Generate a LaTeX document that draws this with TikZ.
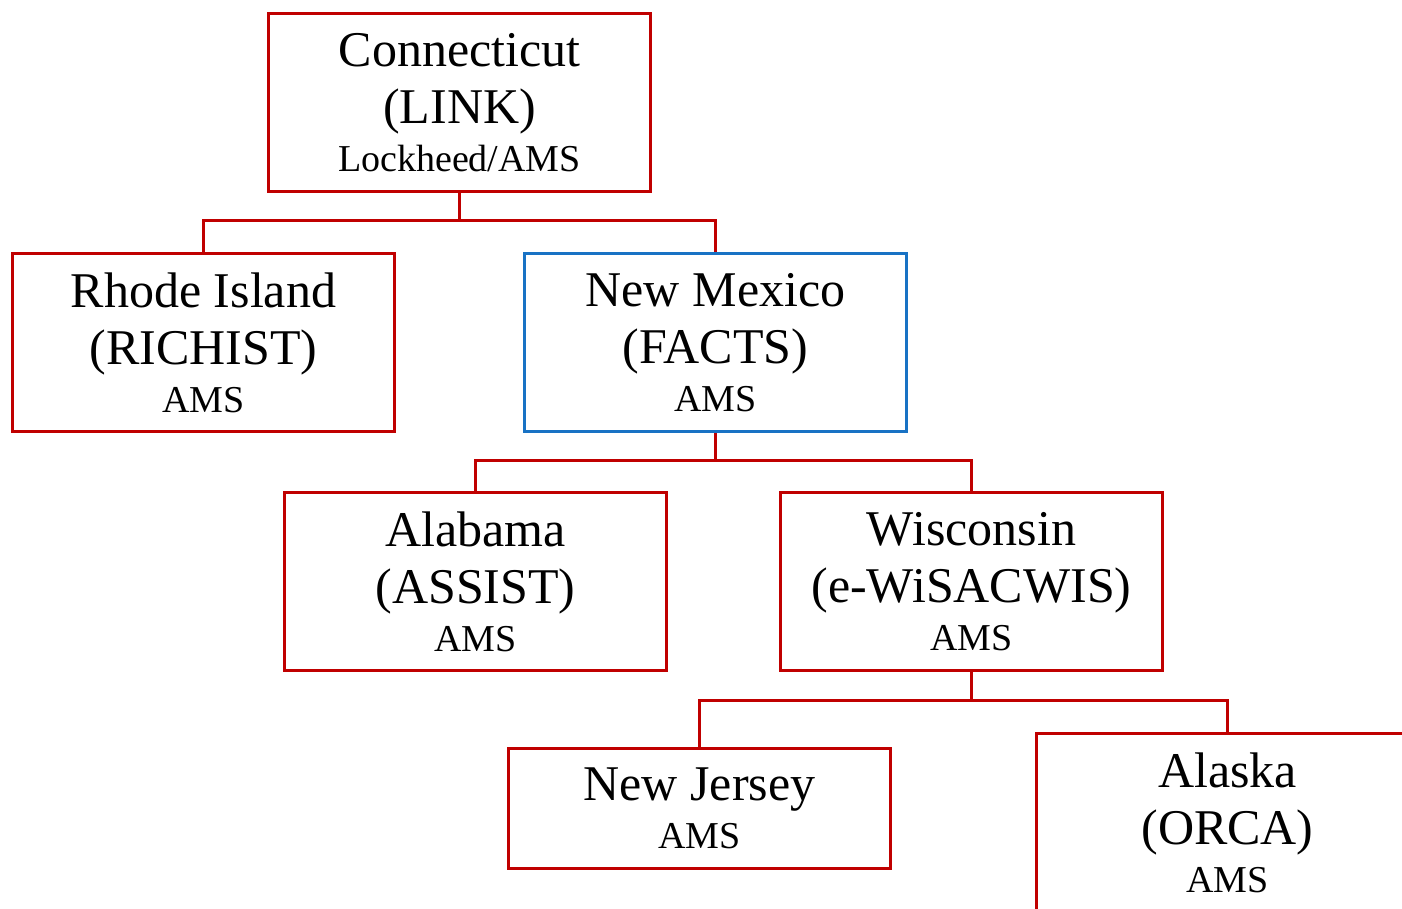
\documentclass[tikz,border=0pt]{standalone}
\usepackage{fontspec}
\setmainfont{Liberation Serif}
\usepackage{tikz}
\usetikzlibrary{positioning}

\definecolor{boxred}{RGB}{192,0,0}
\definecolor{boxblue}{RGB}{24,114,196}

\begin{document}
\begin{tikzpicture}[
  x=1pt, y=-1pt,
  state/.style={rectangle, draw=boxred, line width=3pt, minimum width=382pt, minimum height=178pt,
    inner sep=0pt, align=center, font=\fontsize{50}{57}\selectfont},
  short/.style={state, minimum height=120pt},
  wire/.style={draw=boxred, line width=3pt}
]
\clip (0,0) rectangle (1402,908);

% Nodes
\node[state] (CT) at (459.5,102.5) {Connecticut\\(LINK)\\[-9pt]{\fontsize{38}{44}\selectfont Lockheed/AMS}};
\node[state] (RI) at (203.5,342.5) {Rhode Island\\(RICHIST)\\[-9pt]{\fontsize{38}{44}\selectfont AMS}};
\node[state, draw=boxblue] (NM) at (715.5,342.5) {New Mexico\\(FACTS)\\[-9pt]{\fontsize{38}{44}\selectfont AMS}};
\node[state] (AL) at (475.5,581.5) {Alabama\\(ASSIST)\\[-9pt]{\fontsize{38}{44}\selectfont AMS}};
\node[state] (WI) at (971.5,581.5) {Wisconsin\\(e-WiSACWIS)\\[-9pt]{\fontsize{38}{44}\selectfont AMS}};
\node[short] (NJ) at (699.5,808.5) {New Jersey\\[-9pt]{\fontsize{38}{44}\selectfont AMS}};
\node[state] (AK) at (1227.5,822.5) {Alaska\\(ORCA)\\[-9pt]{\fontsize{38}{44}\selectfont AMS}};

% Connectors
\draw[wire] (CT.south) -- ++(0,27) -| (RI.north);
\draw[wire] (CT.south) -- ++(0,27) -| (NM.north);
\draw[wire] (NM.south) -- ++(0,27) -| (AL.north);
\draw[wire] (NM.south) -- ++(0,27) -| (WI.north);
\draw[wire] (WI.south) -- ++(0,28) -| (NJ.north);
\draw[wire] (WI.south) -- ++(0,28) -| (AK.north);

\end{tikzpicture}
\end{document}
